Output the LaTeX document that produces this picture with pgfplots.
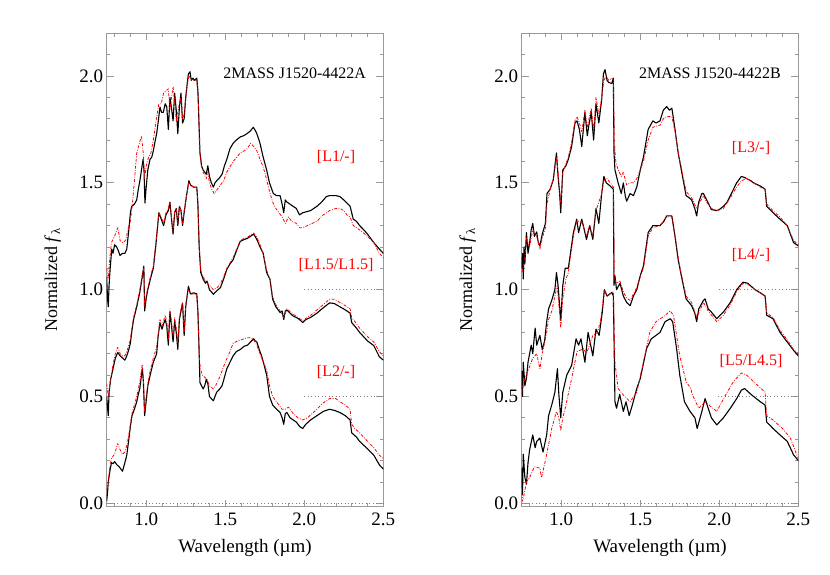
\documentclass[border=0pt]{standalone}
\usepackage{pgfplots}
\pgfplotsset{compat=1.18}
\usepackage{fontspec}
\setmainfont{Liberation Serif}
\pgfplotsset{
  spec/.style={
    scale only axis, width=276.6pt, height=473.4pt,
    anchor=south west,
    xmin=0.75, xmax=2.5, ymin=-0.016, ymax=2.2,
    xtick={1.0,1.5,2.0,2.5}, ytick={0,0.5,1.0,1.5,2.0},
    minor xtick={0.8,0.9,1.1,1.2,1.3,1.4,1.6,1.7,1.8,1.9,2.1,2.2,2.3,2.4},
    minor ytick={0.1,0.2,0.3,0.4,0.6,0.7,0.8,0.9,1.1,1.2,1.3,1.4,1.6,1.7,1.8,1.9,2.1},
    tick align=inside, major tick length=7pt, minor tick length=3.5pt,
    axis line style={gray!80, line width=0.7pt},
    tick style={gray!80, line width=0.7pt},
    ticklabel style={font=\fontsize{19}{19}\selectfont, black},
    xticklabel style={yshift=-3pt},
    /pgf/number format/.cd, fixed, fixed zerofill, precision=1, assume math mode=true,
    /pgfplots/.cd,
    xlabel={Wavelength (µm)},
    ylabel={Normalized \textit{f}\textsubscript{λ}},
    xlabel style={at={(axis description cs:0.5,-0.0872)}, anchor=center, font=\fontsize{19}{19}\selectfont},
    ylabel style={at={(axis description cs:-0.195,0.479)}, anchor=center, font=\fontsize{18}{18}\selectfont},
    clip=true,
  },
  blk/.style={black, line width=1.1pt, line join=round},
  rd/.style={red, line width=0.8pt, line join=round, dash pattern=on 3pt off 1.5pt on 0.8pt off 1.5pt},
  ref/.style={gray, line width=0.7pt, dash pattern=on 1pt off 2.5pt},
}
\begin{document}
\begin{tikzpicture}
\useasboundingbox (0,0) rectangle (830pt,575pt);
% ---------------- Left panel ----------------
\begin{axis}[spec, at={(106.7pt,68.3pt)}]
\addplot[ref] coordinates {(0.75,0) (2.5,0)};
\addplot[ref] coordinates {(2.0,0.5) (2.5,0.5)};
\addplot[ref] coordinates {(2.0,1.0) (2.5,1.0)};
% A top black
\addplot[blk] coordinates {(0.750,1.06) (0.755,0.96) (0.760,0.92) (0.765,1.02) (0.772,1.10) (0.782,1.19) (0.790,1.17) (0.800,1.21) (0.813,1.20) (0.825,1.18) (0.834,1.16) (0.850,1.17) (0.865,1.17) (0.877,1.19) (0.890,1.28) (0.900,1.36) (0.908,1.39) (0.925,1.40) (0.940,1.42) (0.950,1.47) (0.960,1.51) (0.970,1.56) (0.980,1.61) (0.986,1.56) (0.992,1.405) (1.000,1.48) (1.010,1.56) (1.024,1.61) (1.035,1.62) (1.045,1.65) (1.055,1.69) (1.066,1.73) (1.075,1.78) (1.087,1.855) (1.097,1.83) (1.108,1.83) (1.120,1.87) (1.130,1.855) (1.140,1.75) (1.150,1.90) (1.160,1.85) (1.170,1.79) (1.180,1.92) (1.190,1.84) (1.200,1.73) (1.210,1.855) (1.220,1.92) (1.230,1.78) (1.240,1.80) (1.250,1.90) (1.260,1.97) (1.267,2.01) (1.277,2.02) (1.285,1.98) (1.295,1.99) (1.305,1.98) (1.320,1.99) (1.327,1.93) (1.333,1.80) (1.340,1.64) (1.350,1.58) (1.360,1.56) (1.370,1.55) (1.380,1.54) (1.390,1.58) (1.400,1.53) (1.412,1.50) (1.425,1.48) (1.435,1.50) (1.446,1.51) (1.460,1.52) (1.480,1.54) (1.495,1.58) (1.510,1.61) (1.530,1.66) (1.550,1.685) (1.570,1.70) (1.595,1.715) (1.615,1.72) (1.637,1.73) (1.655,1.74) (1.678,1.76) (1.690,1.745) (1.700,1.73) (1.720,1.685) (1.740,1.62) (1.762,1.56) (1.780,1.50) (1.804,1.45) (1.825,1.44) (1.847,1.44) (1.860,1.40) (1.870,1.36) (1.880,1.42) (1.890,1.41) (1.910,1.40) (1.930,1.39) (1.950,1.38) (1.970,1.35) (1.990,1.36) (2.015,1.365) (2.040,1.37) (2.080,1.39) (2.110,1.41) (2.140,1.436) (2.160,1.44) (2.180,1.44) (2.200,1.44) (2.225,1.436) (2.250,1.42) (2.270,1.405) (2.290,1.39) (2.300,1.36) (2.310,1.33) (2.330,1.32) (2.350,1.30) (2.370,1.285) (2.395,1.265) (2.420,1.24) (2.440,1.22) (2.475,1.19) (2.500,1.17)};
% A middle black
\addplot[blk] coordinates {(0.750,0.50) (0.755,0.45) (0.760,0.41) (0.765,0.52) (0.775,0.58) (0.790,0.63) (0.805,0.68) (0.820,0.706) (0.835,0.69) (0.850,0.68) (0.865,0.67) (0.877,0.69) (0.890,0.72) (0.900,0.75) (0.910,0.81) (0.920,0.86) (0.940,0.92) (0.960,0.99) (0.975,1.06) (0.985,1.11) (0.990,0.90) (1.000,0.96) (1.010,1.00) (1.030,1.06) (1.045,1.10) (1.060,1.20) (1.080,1.36) (1.095,1.33) (1.110,1.30) (1.125,1.35) (1.140,1.37) (1.150,1.41) (1.160,1.33) (1.170,1.26) (1.180,1.36) (1.190,1.38) (1.200,1.30) (1.210,1.39) (1.220,1.37) (1.230,1.30) (1.240,1.36) (1.255,1.44) (1.270,1.51) (1.280,1.49) (1.300,1.48) (1.320,1.48) (1.327,1.40) (1.335,1.20) (1.345,1.08) (1.361,1.048) (1.375,1.03) (1.385,1.04) (1.400,1.00) (1.412,0.99) (1.425,0.978) (1.440,0.99) (1.470,1.01) (1.490,1.05) (1.510,1.095) (1.530,1.12) (1.550,1.14) (1.575,1.19) (1.595,1.226) (1.620,1.235) (1.640,1.24) (1.660,1.25) (1.680,1.26) (1.700,1.235) (1.720,1.20) (1.740,1.17) (1.762,1.08) (1.783,1.048) (1.800,0.955) (1.820,0.92) (1.847,0.893) (1.860,0.90) (1.870,0.86) (1.880,0.90) (1.890,0.905) (1.910,0.89) (1.930,0.876) (1.950,0.87) (1.970,0.86) (1.990,0.846) (2.010,0.86) (2.040,0.87) (2.080,0.89) (2.120,0.915) (2.160,0.938) (2.190,0.935) (2.225,0.92) (2.260,0.905) (2.290,0.89) (2.300,0.846) (2.330,0.82) (2.350,0.80) (2.400,0.76) (2.440,0.738) (2.475,0.686) (2.500,0.67)};
% A bottom black
\addplot[blk] coordinates {(0.750,0.01) (0.755,0.05) (0.760,0.10) (0.770,0.15) (0.780,0.19) (0.790,0.185) (0.800,0.195) (0.815,0.18) (0.830,0.17) (0.850,0.15) (0.865,0.19) (0.877,0.225) (0.890,0.30) (0.900,0.36) (0.910,0.41) (0.925,0.44) (0.940,0.475) (0.950,0.51) (0.960,0.54) (0.975,0.63) (0.982,0.57) (0.990,0.41) (1.000,0.48) (1.010,0.55) (1.025,0.60) (1.045,0.66) (1.066,0.70) (1.075,0.78) (1.087,0.845) (1.100,0.815) (1.110,0.84) (1.120,0.86) (1.130,0.83) (1.140,0.74) (1.150,0.895) (1.160,0.83) (1.170,0.755) (1.180,0.85) (1.190,0.80) (1.200,0.72) (1.210,0.86) (1.220,0.90) (1.230,0.937) (1.240,0.785) (1.250,0.92) (1.267,1.016) (1.280,0.98) (1.300,0.985) (1.320,0.98) (1.327,0.90) (1.333,0.755) (1.340,0.565) (1.350,0.55) (1.360,0.535) (1.370,0.55) (1.380,0.58) (1.390,0.56) (1.400,0.50) (1.412,0.49) (1.425,0.48) (1.435,0.50) (1.446,0.52) (1.465,0.535) (1.480,0.55) (1.495,0.59) (1.510,0.63) (1.530,0.66) (1.550,0.69) (1.570,0.71) (1.595,0.72) (1.620,0.735) (1.640,0.74) (1.660,0.755) (1.680,0.77) (1.690,0.76) (1.700,0.755) (1.715,0.72) (1.730,0.69) (1.745,0.65) (1.762,0.60) (1.780,0.50) (1.800,0.46) (1.825,0.44) (1.847,0.425) (1.860,0.40) (1.870,0.37) (1.880,0.42) (1.890,0.425) (1.910,0.40) (1.930,0.39) (1.950,0.38) (1.970,0.36) (1.990,0.35) (2.010,0.37) (2.040,0.39) (2.080,0.41) (2.120,0.43) (2.160,0.44) (2.190,0.435) (2.225,0.425) (2.260,0.41) (2.290,0.39) (2.300,0.33) (2.330,0.31) (2.350,0.29) (2.400,0.255) (2.440,0.225) (2.475,0.18) (2.500,0.16)};
% A top red
\addplot[rd] coordinates {(0.750,1.10) (0.760,1.05) (0.770,1.15) (0.780,1.22) (0.800,1.25) (0.820,1.29) (0.835,1.23) (0.850,1.22) (0.870,1.23) (0.890,1.30) (0.900,1.32) (0.915,1.42) (0.930,1.55) (0.940,1.64) (0.955,1.68) (0.970,1.72) (0.980,1.65) (0.990,1.52) (1.000,1.58) (1.015,1.62) (1.030,1.64) (1.045,1.70) (1.060,1.78) (1.080,1.87) (1.095,1.87) (1.110,1.92) (1.125,1.93) (1.140,1.94) (1.150,1.84) (1.160,1.90) (1.170,1.95) (1.180,1.88) (1.190,1.79) (1.200,1.83) (1.210,1.87) (1.220,1.90) (1.230,1.80) (1.240,1.82) (1.250,1.90) (1.260,1.96) (1.270,2.00) (1.280,1.99) (1.295,1.98) (1.320,1.98) (1.330,1.88) (1.338,1.66) (1.350,1.58) (1.360,1.55) (1.380,1.52) (1.390,1.55) (1.400,1.50) (1.415,1.47) (1.430,1.45) (1.450,1.47) (1.470,1.49) (1.490,1.51) (1.510,1.55) (1.550,1.60) (1.595,1.64) (1.620,1.65) (1.640,1.66) (1.660,1.685) (1.680,1.67) (1.700,1.65) (1.720,1.61) (1.740,1.575) (1.760,1.52) (1.780,1.46) (1.800,1.41) (1.820,1.38) (1.840,1.36) (1.860,1.34) (1.880,1.31) (1.900,1.34) (1.920,1.32) (1.950,1.31) (1.970,1.29) (1.990,1.29) (2.020,1.30) (2.050,1.31) (2.080,1.32) (2.120,1.35) (2.160,1.37) (2.200,1.38) (2.225,1.38) (2.250,1.37) (2.270,1.35) (2.290,1.34) (2.300,1.32) (2.310,1.30) (2.350,1.28) (2.400,1.25) (2.440,1.22) (2.475,1.17) (2.500,1.15)};
% A middle red
\addplot[rd] coordinates {(0.750,0.56) (0.760,0.50) (0.770,0.56) (0.790,0.65) (0.805,0.70) (0.820,0.73) (0.835,0.70) (0.850,0.69) (0.865,0.69) (0.877,0.71) (0.890,0.74) (0.900,0.77) (0.910,0.82) (0.920,0.87) (0.940,0.93) (0.960,1.00) (0.975,1.07) (0.985,1.10) (0.990,0.92) (1.000,0.97) (1.010,1.01) (1.030,1.07) (1.045,1.11) (1.060,1.21) (1.080,1.36) (1.095,1.34) (1.110,1.31) (1.125,1.36) (1.140,1.38) (1.150,1.41) (1.160,1.34) (1.170,1.27) (1.180,1.37) (1.190,1.38) (1.200,1.31) (1.210,1.39) (1.220,1.37) (1.230,1.31) (1.240,1.37) (1.255,1.44) (1.270,1.50) (1.280,1.49) (1.300,1.48) (1.320,1.48) (1.327,1.41) (1.335,1.21) (1.345,1.09) (1.361,1.06) (1.375,1.04) (1.400,1.02) (1.425,1.00) (1.450,1.01) (1.470,1.03) (1.490,1.06) (1.510,1.10) (1.550,1.15) (1.595,1.23) (1.620,1.24) (1.640,1.245) (1.660,1.255) (1.680,1.265) (1.700,1.245) (1.720,1.21) (1.740,1.17) (1.762,1.09) (1.783,1.05) (1.800,0.965) (1.820,0.93) (1.847,0.90) (1.870,0.87) (1.890,0.91) (1.930,0.885) (1.970,0.865) (1.990,0.855) (2.040,0.88) (2.080,0.905) (2.120,0.93) (2.160,0.955) (2.190,0.955) (2.225,0.94) (2.260,0.925) (2.290,0.91) (2.300,0.87) (2.330,0.84) (2.350,0.82) (2.400,0.78) (2.440,0.755) (2.475,0.71) (2.500,0.69)};
% A bottom red
\addplot[rd] coordinates {(0.750,0.06) (0.760,0.10) (0.770,0.17) (0.780,0.21) (0.800,0.23) (0.820,0.28) (0.835,0.25) (0.850,0.23) (0.865,0.24) (0.877,0.27) (0.890,0.32) (0.900,0.37) (0.910,0.42) (0.925,0.46) (0.940,0.50) (0.960,0.57) (0.975,0.65) (0.982,0.59) (0.990,0.43) (1.000,0.50) (1.010,0.56) (1.025,0.62) (1.045,0.68) (1.066,0.73) (1.087,0.86) (1.100,0.83) (1.120,0.88) (1.130,0.85) (1.140,0.77) (1.150,0.91) (1.160,0.85) (1.170,0.78) (1.180,0.87) (1.190,0.82) (1.200,0.75) (1.210,0.87) (1.220,0.91) (1.230,0.94) (1.240,0.80) (1.250,0.93) (1.267,1.00) (1.280,0.98) (1.300,0.98) (1.320,0.975) (1.328,0.88) (1.335,0.70) (1.342,0.63) (1.355,0.60) (1.370,0.59) (1.385,0.58) (1.400,0.55) (1.425,0.535) (1.446,0.56) (1.470,0.60) (1.500,0.66) (1.530,0.71) (1.550,0.75) (1.580,0.76) (1.620,0.77) (1.640,0.775) (1.660,0.775) (1.680,0.765) (1.700,0.74) (1.720,0.70) (1.740,0.66) (1.760,0.63) (1.780,0.55) (1.800,0.50) (1.830,0.47) (1.860,0.44) (1.880,0.44) (1.900,0.45) (1.930,0.42) (1.960,0.40) (1.990,0.39) (2.020,0.40) (2.050,0.42) (2.080,0.44) (2.120,0.47) (2.160,0.49) (2.200,0.49) (2.225,0.475) (2.260,0.46) (2.290,0.44) (2.300,0.37) (2.320,0.35) (2.350,0.33) (2.400,0.29) (2.440,0.26) (2.475,0.225) (2.500,0.21)};
\node[font=\fontsize{16}{16}\selectfont] at (axis cs:1.939,2.012) {2MASS J1520-4422A};
\node[red, font=\fontsize{16}{16}\selectfont] at (axis cs:2.201,1.622) {[L1/-]};
\node[red, font=\fontsize{16}{16}\selectfont] at (axis cs:2.201,1.113) {[L1.5/L1.5]};
\node[red, font=\fontsize{16}{16}\selectfont] at (axis cs:2.201,0.613) {[L2/-]};
\end{axis}
% ---------------- Right panel ----------------
\begin{axis}[spec, at={(521.7pt,68.3pt)}]
\addplot[ref] coordinates {(0.75,0) (2.5,0)};
\addplot[ref] coordinates {(1.99,0.5) (2.5,0.5)};
\addplot[ref] coordinates {(2.0,1.0) (2.5,1.0)};
% B top black
\addplot[blk] coordinates {(0.750,1.10) (0.755,1.17) (0.760,1.05) (0.765,1.20) (0.770,1.12) (0.780,1.267) (0.790,1.17) (0.800,1.22) (0.810,1.28) (0.820,1.31) (0.830,1.25) (0.845,1.27) (0.855,1.22) (0.865,1.205) (0.880,1.26) (0.900,1.31) (0.910,1.45) (0.930,1.47) (0.950,1.515) (0.960,1.58) (0.970,1.64) (0.980,1.53) (0.990,1.45) (0.997,1.36) (1.010,1.56) (1.030,1.58) (1.045,1.61) (1.066,1.67) (1.087,1.78) (1.100,1.79) (1.115,1.75) (1.130,1.67) (1.150,1.83) (1.165,1.72) (1.175,1.77) (1.190,1.83) (1.205,1.70) (1.220,1.87) (1.238,1.78) (1.256,1.89) (1.267,2.01) (1.277,2.03) (1.290,1.98) (1.300,1.97) (1.320,1.965) (1.330,1.99) (1.334,1.64) (1.340,1.56) (1.360,1.50) (1.380,1.45) (1.393,1.50) (1.405,1.44) (1.414,1.414) (1.436,1.45) (1.457,1.44) (1.478,1.48) (1.500,1.56) (1.520,1.62) (1.550,1.75) (1.580,1.79) (1.600,1.78) (1.625,1.79) (1.646,1.84) (1.667,1.857) (1.685,1.84) (1.700,1.85) (1.720,1.75) (1.740,1.64) (1.760,1.56) (1.790,1.44) (1.810,1.43) (1.825,1.42) (1.845,1.38) (1.857,1.345) (1.870,1.41) (1.890,1.45) (1.900,1.45) (1.920,1.42) (1.950,1.375) (1.984,1.37) (2.000,1.375) (2.026,1.39) (2.050,1.41) (2.070,1.44) (2.110,1.50) (2.140,1.53) (2.160,1.525) (2.173,1.52) (2.200,1.51) (2.216,1.50) (2.260,1.485) (2.290,1.47) (2.300,1.39) (2.340,1.36) (2.384,1.33) (2.430,1.30) (2.470,1.22) (2.500,1.205)};
% B middle black
\addplot[blk] coordinates {(0.750,0.62) (0.755,0.50) (0.760,0.66) (0.770,0.55) (0.780,0.585) (0.790,0.66) (0.810,0.74) (0.820,0.70) (0.835,0.82) (0.845,0.74) (0.865,0.786) (0.880,0.72) (0.895,0.76) (0.908,0.85) (0.920,0.91) (0.940,0.95) (0.960,1.00) (0.970,1.08) (0.980,1.02) (0.997,0.856) (1.010,1.02) (1.025,1.10) (1.045,1.10) (1.077,1.267) (1.098,1.33) (1.110,1.267) (1.130,1.33) (1.160,1.235) (1.180,1.30) (1.200,1.235) (1.220,1.38) (1.238,1.31) (1.256,1.45) (1.270,1.53) (1.285,1.50) (1.310,1.485) (1.330,1.47) (1.334,1.02) (1.340,1.065) (1.350,1.00) (1.372,1.03) (1.393,0.97) (1.414,0.94) (1.436,0.925) (1.457,0.97) (1.478,1.00) (1.500,1.065) (1.520,1.11) (1.550,1.267) (1.580,1.30) (1.625,1.30) (1.650,1.32) (1.667,1.345) (1.700,1.345) (1.720,1.25) (1.740,1.14) (1.760,1.065) (1.790,0.957) (1.825,0.925) (1.845,0.89) (1.857,0.85) (1.870,0.91) (1.900,0.95) (1.910,0.957) (1.930,0.91) (1.950,0.895) (1.984,0.864) (2.026,0.895) (2.070,0.94) (2.110,1.00) (2.150,1.035) (2.180,1.03) (2.226,1.00) (2.260,0.985) (2.290,0.97) (2.300,0.88) (2.340,0.864) (2.384,0.80) (2.430,0.755) (2.470,0.716) (2.500,0.69)};
% B bottom black
\addplot[blk] coordinates {(0.750,0.165) (0.755,0.04) (0.760,0.23) (0.770,0.12) (0.780,0.09) (0.790,0.19) (0.800,0.25) (0.820,0.32) (0.835,0.26) (0.845,0.29) (0.865,0.305) (0.885,0.24) (0.908,0.32) (0.920,0.41) (0.940,0.46) (0.960,0.52) (0.976,0.63) (0.985,0.51) (0.997,0.40) (1.010,0.52) (1.035,0.60) (1.066,0.646) (1.094,0.77) (1.110,0.74) (1.125,0.77) (1.150,0.66) (1.170,0.80) (1.200,0.69) (1.220,0.815) (1.240,0.786) (1.260,0.895) (1.273,1.00) (1.290,0.97) (1.320,0.987) (1.330,0.97) (1.340,0.475) (1.350,0.445) (1.370,0.51) (1.393,0.43) (1.410,0.475) (1.430,0.41) (1.450,0.46) (1.478,0.537) (1.500,0.584) (1.540,0.724) (1.570,0.77) (1.600,0.786) (1.625,0.80) (1.657,0.85) (1.690,0.864) (1.705,0.85) (1.730,0.724) (1.750,0.60) (1.780,0.475) (1.815,0.43) (1.846,0.40) (1.860,0.35) (1.890,0.43) (1.910,0.49) (1.930,0.445) (1.950,0.40) (1.984,0.367) (2.026,0.40) (2.070,0.445) (2.110,0.49) (2.140,0.53) (2.160,0.537) (2.205,0.507) (2.260,0.475) (2.290,0.46) (2.300,0.38) (2.340,0.35) (2.384,0.32) (2.430,0.29) (2.470,0.227) (2.500,0.20)};
% B top red
\addplot[rd] coordinates {(0.750,1.08) (0.760,1.10) (0.770,1.15) (0.780,1.24) (0.800,1.20) (0.820,1.28) (0.845,1.25) (0.865,1.19) (0.880,1.24) (0.900,1.29) (0.910,1.40) (0.930,1.47) (0.950,1.52) (0.970,1.62) (0.980,1.55) (0.997,1.40) (1.010,1.55) (1.045,1.62) (1.066,1.69) (1.087,1.79) (1.100,1.81) (1.115,1.78) (1.130,1.74) (1.150,1.84) (1.165,1.76) (1.190,1.85) (1.205,1.74) (1.220,1.90) (1.238,1.82) (1.256,1.90) (1.270,1.98) (1.285,2.00) (1.300,1.98) (1.320,1.99) (1.330,1.98) (1.336,1.70) (1.345,1.60) (1.360,1.56) (1.380,1.53) (1.393,1.55) (1.414,1.49) (1.436,1.50) (1.457,1.50) (1.478,1.52) (1.500,1.56) (1.520,1.60) (1.550,1.70) (1.580,1.76) (1.625,1.77) (1.646,1.80) (1.667,1.81) (1.700,1.81) (1.720,1.74) (1.740,1.64) (1.760,1.57) (1.790,1.46) (1.825,1.43) (1.857,1.38) (1.870,1.40) (1.900,1.44) (1.920,1.41) (1.950,1.38) (1.984,1.37) (2.026,1.38) (2.070,1.43) (2.110,1.48) (2.140,1.51) (2.173,1.52) (2.216,1.50) (2.260,1.48) (2.290,1.47) (2.300,1.40) (2.340,1.37) (2.384,1.34) (2.430,1.30) (2.470,1.23) (2.500,1.21)};
% B middle red
\addplot[rd] coordinates {(0.750,0.51) (0.760,0.56) (0.780,0.60) (0.800,0.64) (0.820,0.68) (0.845,0.70) (0.865,0.63) (0.880,0.70) (0.908,0.80) (0.920,0.86) (0.940,0.90) (0.960,0.97) (0.975,1.02) (0.997,0.82) (1.010,0.96) (1.030,1.05) (1.045,1.08) (1.077,1.25) (1.098,1.32) (1.130,1.32) (1.160,1.25) (1.180,1.30) (1.200,1.25) (1.220,1.37) (1.256,1.45) (1.270,1.51) (1.290,1.52) (1.310,1.50) (1.330,1.48) (1.336,1.05) (1.350,1.03) (1.372,1.04) (1.393,0.99) (1.414,0.96) (1.436,0.95) (1.457,0.98) (1.478,1.01) (1.500,1.06) (1.520,1.10) (1.550,1.25) (1.580,1.29) (1.625,1.30) (1.667,1.34) (1.700,1.34) (1.720,1.25) (1.740,1.15) (1.760,1.07) (1.790,0.97) (1.825,0.94) (1.857,0.87) (1.900,0.94) (1.930,0.90) (1.984,0.85) (2.026,0.88) (2.070,0.93) (2.110,0.99) (2.150,1.03) (2.180,1.025) (2.226,1.00) (2.290,0.97) (2.300,0.89) (2.340,0.87) (2.384,0.81) (2.430,0.765) (2.470,0.72) (2.500,0.70)};
% B bottom red
\addplot[rd] coordinates {(0.750,0.05) (0.755,0.01) (0.765,0.04) (0.780,0.10) (0.800,0.12) (0.830,0.17) (0.865,0.165) (0.875,0.12) (0.900,0.20) (0.908,0.23) (0.940,0.35) (0.970,0.43) (0.985,0.40) (0.997,0.34) (1.010,0.40) (1.025,0.445) (1.066,0.584) (1.100,0.71) (1.140,0.724) (1.160,0.70) (1.200,0.786) (1.230,0.80) (1.250,0.86) (1.273,1.00) (1.290,0.97) (1.310,0.98) (1.330,0.99) (1.340,0.66) (1.360,0.537) (1.393,0.507) (1.436,0.475) (1.478,0.52) (1.520,0.66) (1.560,0.80) (1.600,0.85) (1.640,0.87) (1.690,0.90) (1.710,0.88) (1.750,0.69) (1.790,0.57) (1.820,0.537) (1.830,0.507) (1.870,0.445) (1.910,0.475) (1.984,0.43) (2.040,0.507) (2.090,0.57) (2.140,0.61) (2.173,0.60) (2.216,0.57) (2.290,0.52) (2.300,0.41) (2.340,0.39) (2.400,0.35) (2.450,0.305) (2.490,0.227) (2.500,0.21)};
\node[font=\fontsize{16}{16}\selectfont] at (axis cs:1.941,2.012) {2MASS J1520-4422B};
\node[red, font=\fontsize{16}{16}\selectfont] at (axis cs:2.201,1.663) {[L3/-]};
\node[red, font=\fontsize{16}{16}\selectfont] at (axis cs:2.201,1.162) {[L4/-]};
\node[red, font=\fontsize{16}{16}\selectfont] at (axis cs:2.201,0.665) {[L5/L4.5]};
\end{axis}
\end{tikzpicture}
\end{document}
